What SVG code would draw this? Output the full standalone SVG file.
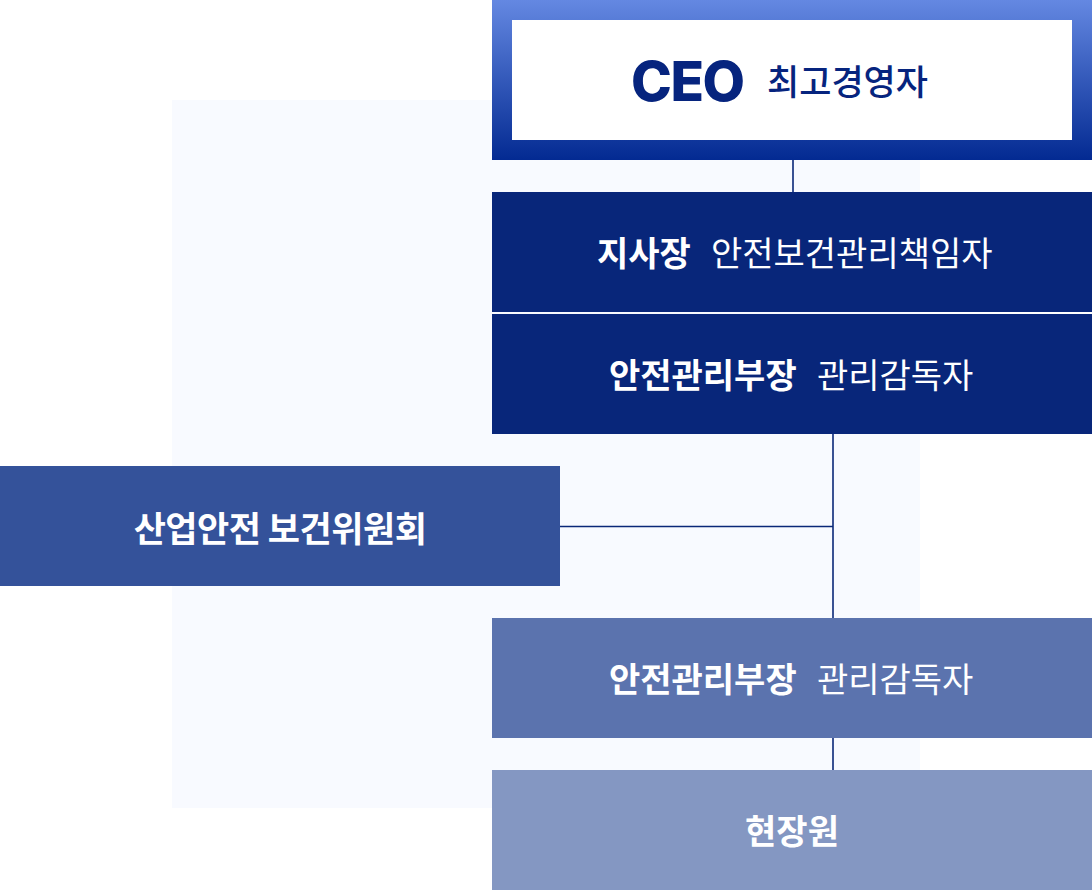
<svg xmlns="http://www.w3.org/2000/svg" width="1092" height="890" viewBox="0 0 1092 890">
<defs>
<linearGradient id="ceoGrad" x1="0" y1="0" x2="0" y2="1">
<stop offset="0" stop-color="#6488e2"/>
<stop offset="1" stop-color="#032a92"/>
</linearGradient>
<style>
.t{font-family:"Noto Sans CJK KR","Noto Sans",sans-serif;font-size:34px;fill:#ffffff;dominant-baseline:central}
.b{font-weight:700}
.r{font-weight:400}
.conn{stroke:#0a2878;stroke-width:1.6;fill:none}
</style>
</defs>
<rect x="0" y="0" width="1092" height="890" fill="#ffffff"/>
<rect id="panel" x="172" y="100" width="748" height="708" fill="#f8faff"/>
<g id="connectors">
<line class="conn" x1="793" y1="160" x2="793" y2="192"/>
<line class="conn" x1="833" y1="434" x2="833" y2="618"/>
<line class="conn" x1="560" y1="526.5" x2="833" y2="526.5"/>
<line class="conn" x1="833" y1="738" x2="833" y2="770"/>
</g>
<g id="ceo">
<rect x="492" y="0" width="600" height="160" fill="url(#ceoGrad)"/>
<rect x="512" y="20" width="560" height="120" fill="#ffffff"/>
<text x="631" y="81" font-family="Inter,'Noto Sans',sans-serif" font-weight="800" font-size="55" fill="#06247e" letter-spacing="-1.5" dominant-baseline="central">CEO</text>
<text x="767" y="79" class="t" style="fill:#06247e;font-weight:500;font-size:35px">최고경영자</text>
</g>
<g id="branch-head">
<rect x="492" y="192" width="600" height="120" fill="#08267a"/>
<text x="597" y="251" class="t"><tspan class="b">지사장</tspan><tspan class="r" x="711">안전보건관리책임자</tspan></text>
</g>
<g id="safety-manager-1">
<rect x="492" y="314" width="600" height="120" fill="#08267a"/>
<text x="609" y="373" class="t"><tspan class="b">안전관리부장</tspan><tspan class="r" x="817">관리감독자</tspan></text>
</g>
<g id="committee">
<rect x="0" y="466" width="560" height="120" fill="#34529a"/>
<text x="280" y="526" class="t b" text-anchor="middle" style="font-size:35px" letter-spacing="-0.5">산업안전 보건위원회</text>
</g>
<g id="safety-manager-2">
<rect x="492" y="618" width="600" height="120" fill="#5b73ae"/>
<text x="609" y="677" class="t"><tspan class="b">안전관리부장</tspan><tspan class="r" x="817">관리감독자</tspan></text>
</g>
<g id="field-worker">
<rect x="492" y="770" width="600" height="120" fill="#8497c2"/>
<text x="792" y="829" class="t b" text-anchor="middle">현장원</text>
</g>
</svg>
